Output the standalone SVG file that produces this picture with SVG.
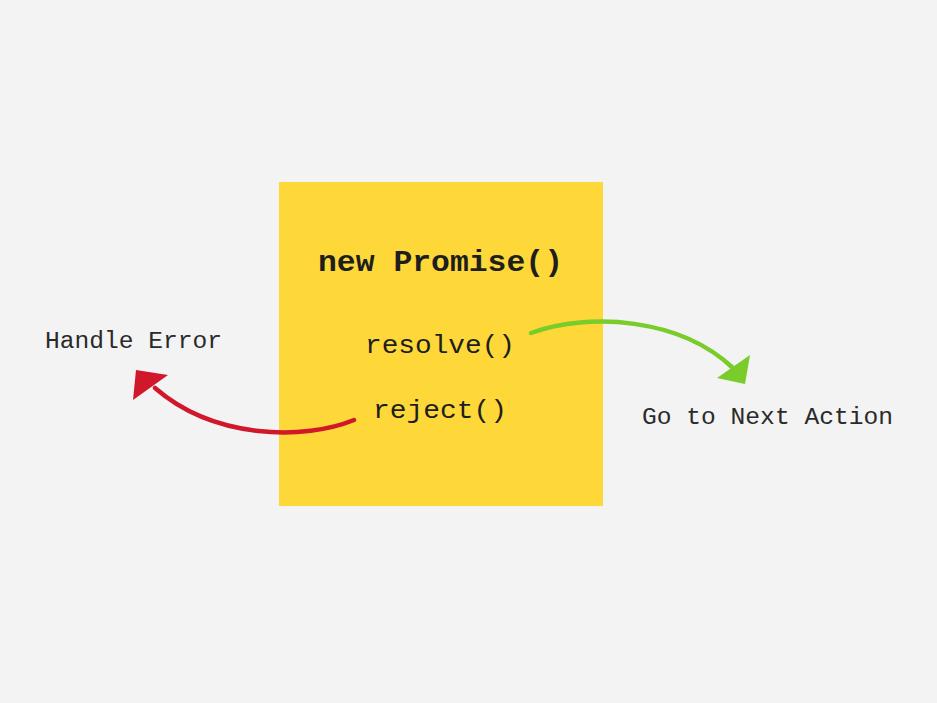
<svg xmlns="http://www.w3.org/2000/svg" width="937" height="703" viewBox="0 0 937 703">
<style>
.mono{font-family:"Liberation Mono","DejaVu Sans Mono",monospace;fill:#1e1e1e}
.title{font-size:30px;font-weight:bold}
.code{font-size:25px}
.label{font-size:23px;fill:#2a2a2a}
</style>
<rect x="0" y="0" width="937" height="703" fill="#f3f3f3"/>
<g id="promise">
<rect x="279" y="182" width="324" height="324" fill="#fdd838"/>
<text class="mono title" x="318" y="271" textLength="245" lengthAdjust="spacingAndGlyphs">new Promise()</text>
</g>
<g id="resolve">
<text class="mono code" x="365" y="353" textLength="150" lengthAdjust="spacingAndGlyphs">resolve()</text>
</g>
<g id="reject">
<text class="mono code" x="373" y="418" textLength="134" lengthAdjust="spacingAndGlyphs">reject()</text>
</g>
<g id="handle-error">
<text class="mono label" x="45" y="348" textLength="177" lengthAdjust="spacingAndGlyphs">Handle Error</text>
</g>
<g id="next-action">
<text class="mono label" x="642" y="424" textLength="251" lengthAdjust="spacingAndGlyphs">Go to Next Action</text>
</g>
<g id="connectors">
<path d="M354,420 C305,440 215,440 155,388" fill="none" stroke="#d0182a" stroke-width="4.5" stroke-linecap="round"/>
<polygon points="136,370 168,375 133,400" fill="#d0182a"/>
<path d="M531,333 C590,312 680,318 733,368" fill="none" stroke="#79cc2a" stroke-width="4.5" stroke-linecap="round"/>
<polygon points="750,355 745,384 717,378" fill="#79cc2a"/>
</g>
</svg>
